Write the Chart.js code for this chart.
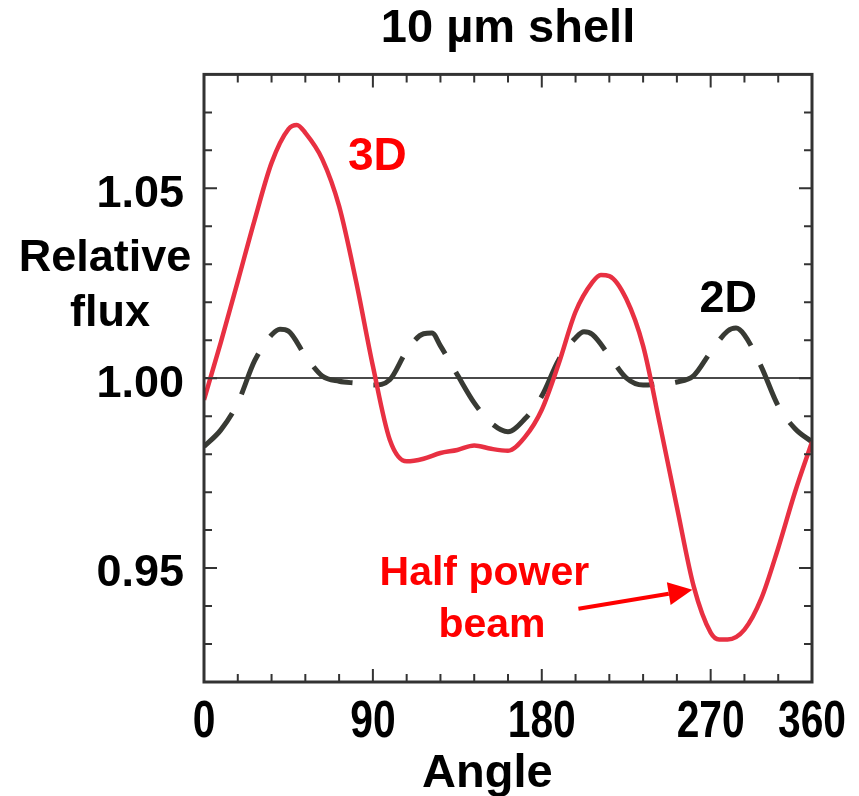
<!DOCTYPE html>
<html>
<head>
<meta charset="utf-8">
<script src="https://cdn.jsdelivr.net/npm/chart.js@4.4.1/dist/chart.umd.min.js"></script>
<style>
  html, body { margin: 0; padding: 0; background: #ffffff; }
  canvas { display: block; }
</style>
</head>
<body>
<canvas id="chart-flux" width="859" height="796"></canvas>

<script>
    // 3D curve (red, solid)
    const angles3D = [0, 10, 20, 30, 40, 50, 55, 60, 70, 80,
        90, 100, 110, 120, 130, 140, 150, 160, 170, 180,
        190, 200, 210, 220, 230, 235, 240, 250, 260, 270,
        280, 290, 300, 305, 310, 320, 330, 340, 350, 360];
    const flux3D = [0.9943, 1.0095, 1.0255, 1.0417, 1.0567, 1.0656, 1.0667, 1.0646, 1.0577, 1.0453,
        1.0256, 1.0032, 0.9838, 0.9781, 0.9788, 0.9803, 0.9811, 0.9823, 0.9814, 0.9809,
        0.9845, 0.9917, 1.0038, 1.0175, 1.0253, 1.0272, 1.0269, 1.0209, 1.0085, 0.9877,
        0.9661, 0.9451, 0.9330, 0.9312, 0.9312, 0.9338, 0.9420, 0.9553, 0.9701, 0.9832];

    // 2D curve (dark, dashed)
    const angles2D = [0, 10, 20, 30, 40, 45, 50, 60, 70, 80,
        90, 100, 110, 120, 130, 135, 140, 150, 160, 170,
        180, 190, 200, 210, 220, 225, 230, 240, 250, 260,
        270, 280, 290, 300, 310, 315, 320, 330, 340, 350, 360];
    const flux2D = [0.9820, 0.9864, 0.9935, 1.0046, 1.0114, 1.0129, 1.0124, 1.0059, 1.0006, 0.9992,
        0.9987, 0.9982, 0.9996, 1.0072, 1.0117, 1.0119, 1.0085, 1.0009, 0.9935, 0.9882,
        0.9859, 0.9893, 0.9953, 1.0048, 1.0106, 1.0122, 1.0115, 1.0059, 1.0001, 0.9982,
        0.9986, 0.9990, 1.0007, 1.0069, 1.0124, 1.0132, 1.0114, 1.0030, 0.9927, 0.9867, 0.9832];

    // tick labels as printed on the original figure
    const xTickLabels = { 0: '0', 100: '90', 200: '180', 300: '270', 360: '360' };
    const xMajorTicks = [100, 200, 300];
    const yTickLabels = [0.95, 1.00, 1.05];

    const RED_LINE = 'rgb(232,48,66)';
    const DARK_LINE = 'rgb(56,58,52)';
    const FONT = '"Liberation Sans", Arial, sans-serif';

    function toPoints(xs, ys) {
        return xs.map((a, i) => ({ x: a, y: ys[i] }));
    }

    function isYLabel(v) {
        return yTickLabels.some(l => Math.abs(l - v) < 1e-6);
    }

    // frame, inward tick marks, x labels and text annotations
    const frameAndNotes = {
        id: 'frameAndNotes',
        afterDatasetsDraw(chart) {
            const ctx = chart.ctx;
            const a = chart.chartArea;
            const x = chart.scales.x;
            const y = chart.scales.y;
            ctx.save();

            ctx.strokeStyle = '#333333';
            ctx.lineWidth = 2;
            ctx.beginPath();
            x.ticks.forEach(t => {
                if (t.value <= 0 || t.value >= 360) return;
                const px = x.getPixelForValue(t.value);
                const len = xMajorTicks.includes(t.value) ? 13 : 8;
                ctx.moveTo(px, a.bottom); ctx.lineTo(px, a.bottom - len);
                ctx.moveTo(px, a.top); ctx.lineTo(px, a.top + len);
            });
            y.ticks.forEach(t => {
                if (t.value <= 0.9201 || t.value >= 1.0799) return;
                const py = y.getPixelForValue(t.value);
                const len = isYLabel(t.value) ? 13 : 8;
                ctx.moveTo(a.left, py); ctx.lineTo(a.left + len, py);
                ctx.moveTo(a.right, py); ctx.lineTo(a.right - len, py);
            });
            ctx.stroke();

            ctx.lineWidth = 3;
            ctx.strokeRect(a.left, a.top, a.right - a.left, a.bottom - a.top);

            ctx.textAlign = 'center';
            ctx.textBaseline = 'alphabetic';

            // x tick labels, condensed like the original lettering
            ctx.fillStyle = '#000000';
            ctx.font = 'bold 51px ' + FONT;
            x.ticks.forEach(t => {
                const label = xTickLabels[t.value];
                if (label === undefined) return;
                ctx.save();
                ctx.translate(x.getPixelForValue(t.value), a.bottom + 55);
                ctx.scale(0.8, 1);
                ctx.fillText(label, 0, 0);
                ctx.restore();
            });

            ctx.fillStyle = '#ff0000';
            ctx.font = 'bold 46px ' + FONT;
            ctx.fillText('3D', x.getPixelForValue(102.6), y.getPixelForValue(1.0548));
            ctx.font = 'bold 41px ' + FONT;
            ctx.fillText('Half power', x.getPixelForValue(166), y.getPixelForValue(0.9456));
            ctx.fillText('beam', x.getPixelForValue(170.5), y.getPixelForValue(0.9319));

            // arrow to the 3D dip
            const x0 = x.getPixelForValue(221.7), y0 = y.getPixelForValue(0.9393);
            const x1 = x.getPixelForValue(289.2), y1 = y.getPixelForValue(0.9443);
            const ang = Math.atan2(y1 - y0, x1 - x0);
            const head = 24, half = 11.5;
            const bx = x1 - head * Math.cos(ang), by = y1 - head * Math.sin(ang);
            ctx.strokeStyle = '#ff0000';
            ctx.lineWidth = 4;
            ctx.beginPath();
            ctx.moveTo(x0, y0);
            ctx.lineTo(bx, by);
            ctx.stroke();
            ctx.beginPath();
            ctx.moveTo(x1, y1);
            ctx.lineTo(bx + half * Math.sin(ang), by - half * Math.cos(ang));
            ctx.lineTo(bx - half * Math.sin(ang), by + half * Math.cos(ang));
            ctx.closePath();
            ctx.fill();

            ctx.fillStyle = '#000000';
            ctx.font = 'bold 45px ' + FONT;
            ctx.fillText('2D', x.getPixelForValue(310.4), y.getPixelForValue(1.0175));
            ctx.fillText('Relative', a.left - 99, y.getPixelForValue(1.0282));
            ctx.fillText('flux', a.left - 94, y.getPixelForValue(1.0138));
            ctx.font = 'bold 47px ' + FONT;
            ctx.fillText('Angle', x.getPixelForValue(167.8), a.bottom + 105);

            ctx.restore();
        }
    };

    const data = {
        datasets: [{
            label: '3D',
            data: toPoints(angles3D, flux3D),
            borderColor: RED_LINE,
            borderWidth: 4.5,
            pointRadius: 0,
            cubicInterpolationMode: 'monotone',
            borderJoinStyle: 'round'
        }, {
            label: '2D',
            data: toPoints(angles2D, flux2D),
            borderColor: DARK_LINE,
            borderWidth: 5,
            borderDash: [44, 21],
            pointRadius: 0,
            cubicInterpolationMode: 'monotone',
            borderJoinStyle: 'round'
        }]
    };

    const config = {
        type: 'line',
        data: data,
        options: {
            responsive: false,
            animation: false,
            layout: {
                padding: { left: 0, right: 47, top: 0, bottom: 0 }
            },
            scales: {
                x: {
                    type: 'linear',
                    min: 0,
                    max: 360,
                    border: { display: false },
                    grid: { display: false, drawTicks: false },
                    ticks: {
                        stepSize: 20,
                        autoSkip: false,
                        display: false
                    },
                    afterFit: (scale) => { scale.height = 114; }
                },
                y: {
                    min: 0.92,
                    max: 1.08,
                    border: { display: false },
                    grid: {
                        drawTicks: false,
                        lineWidth: 2,
                        color: (c) => (c.tick && Math.abs(c.tick.value - 1.00) < 1e-6) ? '#4a4a4a' : 'rgba(0,0,0,0)'
                    },
                    ticks: {
                        stepSize: 0.01,
                        autoSkip: false,
                        padding: 20,
                        labelOffset: 6,
                        color: '#000000',
                        font: { family: FONT, weight: 'bold', size: 45 },
                        callback: (v) => isYLabel(v) ? Number(v).toFixed(2) : ''
                    },
                    afterFit: (scale) => { scale.width = 204; }
                }
            },
            plugins: {
                legend: { display: false },
                tooltip: { enabled: false },
                title: {
                    display: true,
                    text: '10 \u00b5m shell',
                    fullSize: false,
                    color: '#000000',
                    font: { family: FONT, weight: 'bold', size: 47, lineHeight: 1.2 },
                    padding: { top: 1, bottom: 17 }
                }
            }
        },
        plugins: [frameAndNotes]
    };

    var chartFlux = new Chart(
        document.getElementById('chart-flux'),
        config
    );
</script>
</body>
</html>
